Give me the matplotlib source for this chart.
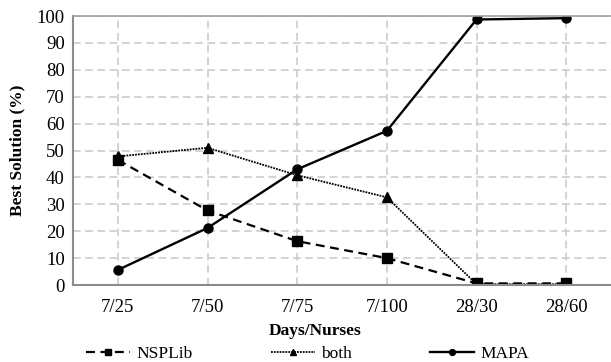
import numpy as np
import matplotlib
matplotlib.use("Agg")
import matplotlib.pyplot as plt

plt.rcParams['font.family'] = ['Liberation Serif', 'DejaVu Serif']

categories = ["7/25", "7/50", "7/75", "7/100", "28/30", "28/60"]
nsplib = [46.5, 27.7, 16.3, 10.0, 0.6, 0.6]
both = [47.8, 51.0, 40.8, 32.6, 0.3, 0.3]
mapa = [5.6, 21.2, 43.0, 57.3, 98.7, 99.2]

x = np.arange(len(categories))

fig = plt.figure(figsize=(6.11, 3.62), dpi=100)
ax = fig.add_axes([0.1195, 0.2127, 0.8805, 0.7431])

ax.plot(x, nsplib, color='black', linestyle=(0, (4, 2.5)), lw=1.6,
        marker='s', markersize=6.5, label='NSPLib')
ax.plot(x, both, color='black', linestyle=(0, (1, 0.6)), lw=1.3,
        marker='^', markersize=6.5, label='both')
ax.plot(x, mapa, color='black', linestyle='-', lw=1.7,
        marker='o', markersize=6.5, label='MAPA')

ax.set_xlim(-0.5, len(categories) - 0.5)
ax.set_ylim(0, 100)
ax.set_yticks(np.arange(0, 101, 10))
ax.set_xticks(x)
ax.set_xticklabels(categories)
ax.tick_params(axis='both', labelsize=13.5, length=0, colors='black')
ax.tick_params(axis='y', pad=6)
ax.tick_params(axis='x', pad=10)

ax.grid(True, color='#c8c8c8', linestyle=(0, (5, 3)), lw=1.1)
ax.set_axisbelow(True)
for s in ['left', 'bottom']:
    ax.spines[s].set_color('#8c8c8c')
    ax.spines[s].set_linewidth(1.5)
ax.spines['top'].set_color('#a0a0a0')
ax.spines['top'].set_linewidth(1.2)
ax.spines['right'].set_visible(False)

ax.set_xlabel('Days/Nurses', fontsize=12.5, fontweight='bold')
ax.xaxis.set_label_coords(0.45, -0.142)
ax.set_ylabel('Best Solution (%)', fontsize=12.5, fontweight='bold', labelpad=8)

fig.legend(loc='center', ncol=3, bbox_to_anchor=(0.504, 0.022),
           frameon=False, fontsize=12.5, handlelength=2.5, columnspacing=4.5,
           handletextpad=0.4, borderpad=0, markerscale=0.65)

fig.savefig('out.png', dpi=100)
